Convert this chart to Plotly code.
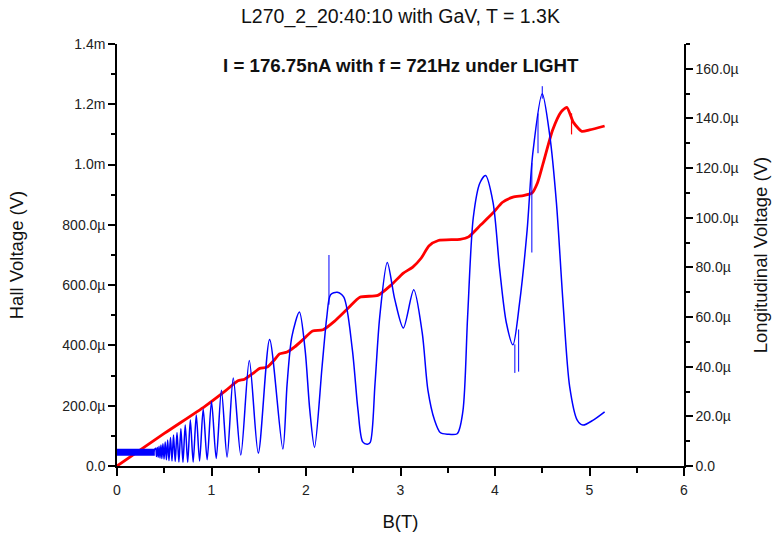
import plotly.graph_objects as go

# Magnetic field sweep (T)
# Hall voltage, values in microvolts
hall_b = [0.0, 0.5, 0.93, 1.15, 1.28, 1.35, 1.45, 1.51, 1.59, 1.66, 1.72, 1.80,
          1.88, 1.97, 2.07, 2.18, 2.30, 2.45, 2.57, 2.76, 2.90, 3.03, 3.13, 3.22,
          3.30, 3.40, 3.63, 3.72, 3.85, 3.98, 4.08, 4.19, 4.30, 4.39, 4.45, 4.51,
          4.61, 4.70, 4.76, 4.83, 4.92, 5.00, 5.16]
hall_uv = [0, 108, 198, 250, 283, 288, 310, 324, 328, 350, 372, 378,
           395, 420, 448, 452, 480, 525, 560, 566, 600, 640, 660, 690,
           730, 748, 752, 760, 800, 840, 875, 892, 897, 905, 940, 1005,
           1115, 1175, 1190, 1140, 1110, 1115, 1128]

# Longitudinal voltage, values in microvolts
long_b = [0.0, 0.38, 0.40, 0.41, 0.418, 0.427, 0.436, 0.445, 0.455, 0.465, 0.475,
          0.486, 0.498, 0.51, 0.523, 0.536, 0.55, 0.566, 0.582, 0.598, 0.616,
          0.635, 0.655, 0.676, 0.698, 0.722, 0.748, 0.776, 0.806, 0.839, 0.874,
          0.912, 0.954, 1.0, 1.05, 1.105, 1.165, 1.23, 1.31, 1.40, 1.495, 1.615,
          1.755, 1.80, 1.85, 1.93, 1.99, 2.04, 2.09, 2.17, 2.22, 2.26, 2.33, 2.40,
          2.49, 2.55, 2.60, 2.65, 2.68, 2.73, 2.78, 2.86, 2.94, 3.03, 3.14, 3.23,
          3.29, 3.36, 3.42, 3.50, 3.60, 3.66, 3.71, 3.77, 3.84, 3.90, 3.98, 4.05,
          4.12, 4.19, 4.26, 4.34, 4.40, 4.50, 4.58, 4.65, 4.72, 4.79, 4.87, 4.93,
          5.04, 5.16]
long_uv = [5.5, 5.5, 6.8, 7.2, 3.8, 7.5, 3.5, 8.0, 3.2, 8.5, 3.0,
           9.0, 2.8, 9.7, 2.5, 10.5, 2.2, 11.5, 2.0, 12.5, 1.8,
           13.5, 1.6, 15.0, 1.5, 16.5, 1.5, 18.5, 1.6, 20.5, 2.0,
           23.0, 2.5, 26.0, 3.0, 30.5, 3.6, 35.5, 4.4, 42.5, 5.2, 51.0,
           6.8, 33.0, 52.0, 62.0, 47.0, 22.6, 7.5, 40.0, 60.0, 69.0, 70.0, 68.0,
           47.0, 22.6, 9.7, 8.8, 9.5, 33.0, 60.0, 82.0, 67.0, 55.6, 71.0, 53.6,
           30.6, 18.5, 13.5, 12.8, 13.0, 22.0, 60.0, 100.0, 114.0, 117.0, 106.0, 79.0,
           57.7, 48.8, 65.7, 95.0, 126.0, 150.0, 133.0, 106.0, 65.7, 32.0, 18.5, 16.5,
           18.5, 21.8]

# Single-sample glitches in the longitudinal trace (field, from, to)
glitch_b = [2.243, 4.21, 4.25, 4.39, 4.455, 4.50]
glitch_from = [65.0, 49.0, 55.0, 122.0, 142.0, 148.0]
glitch_to = [85.0, 37.5, 38.0, 86.0, 126.0, 153.0]

# Glitch in the Hall trace
hall_glitch_b = [4.81]
hall_glitch_from = [1170]
hall_glitch_to = [1100]

# Noisy zero-field baseline of the longitudinal trace
base_b = [0.0, 0.40]
base_uv = [5.5, 5.5]

left_vals = [0, 200, 400, 600, 800, 1000, 1200, 1400]
left_text = ["0.0", "200.0µ", "400.0µ", "600.0µ", "800.0µ", "1.0m", "1.2m", "1.4m"]
right_vals = [0, 20, 40, 60, 80, 100, 120, 140, 160]
right_text = ["0.0", "20.0µ", "40.0µ", "60.0µ", "80.0µ", "100.0µ", "120.0µ", "140.0µ", "160.0µ"]
x_vals = [0, 1, 2, 3, 4, 5, 6]

BLUE = "#0000FF"
RED = "#FF0000"
FONT = "Liberation Sans, Arial, sans-serif"


def segments(xs, y0s, y1s):
    gx, gy = [], []
    for x, a, b in zip(xs, y0s, y1s):
        gx += [x, x, None]
        gy += [a, b, None]
    return gx, gy


fig = go.Figure()

fig.add_trace(go.Scatter(x=base_b, y=base_uv, yaxis="y2", mode="lines",
                         line=dict(color=BLUE, width=7), hoverinfo="skip"))
fig.add_trace(go.Scatter(x=long_b, y=long_uv, yaxis="y2", mode="lines",
                         line=dict(color=BLUE, width=1.5, shape="spline", smoothing=0.8),
                         name="Longitudinal"))
gx, gy = segments(glitch_b, glitch_from, glitch_to)
fig.add_trace(go.Scatter(x=gx, y=gy, yaxis="y2", mode="lines",
                         line=dict(color=BLUE, width=1), hoverinfo="skip"))

fig.add_trace(go.Scatter(x=hall_b, y=hall_uv, mode="lines",
                         line=dict(color=RED, width=2.8, shape="spline", smoothing=0.6),
                         name="Hall"))
hx, hy = segments(hall_glitch_b, hall_glitch_from, hall_glitch_to)
fig.add_trace(go.Scatter(x=hx, y=hy, mode="lines",
                         line=dict(color=RED, width=1.2), hoverinfo="skip"))

axis_common = dict(showline=True, linecolor="#000", linewidth=1.5, ticks="outside",
                   tickcolor="#000", tickwidth=1.5, showgrid=False, zeroline=False,
                   automargin=False,
                   tickfont=dict(family=FONT, size=14, color="#222"))

fig.update_layout(
    width=772, height=534,
    margin=dict(l=117, r=88, t=44, b=68),
    paper_bgcolor="white", plot_bgcolor="white",
    showlegend=False,
    title=dict(text="L270_2_20:40:10 with GaV, T = 1.3K", x=0.5, xref="paper",
               y=1 - 16 / 534, yanchor="middle", automargin=False,
               font=dict(family=FONT, size=19.5, color="#111")),
    xaxis=dict(range=[0, 6], tickvals=x_vals, ticklen=8, ticklabelstandoff=2,
               minor=dict(ticks="outside", dtick=0.5, ticklen=5, tickcolor="#000", tickwidth=1.5),
               title=dict(text="B(T)", font=dict(family=FONT, size=18.5, color="#111"), standoff=19),
               **axis_common),
    yaxis=dict(range=[0, 1400], tickvals=left_vals, ticktext=left_text, ticklen=7,
               minor=dict(ticks="outside", dtick=100, ticklen=4, tickcolor="#000", tickwidth=1.5),
               title=dict(text="Hall Voltage (V)", font=dict(family=FONT, size=18.5, color="#111"), standoff=34),
               **axis_common),
    yaxis2=dict(range=[0, 170], overlaying="y", side="right", anchor="x",
                tickvals=right_vals, ticktext=right_text, ticklen=7,
                minor=dict(ticks="outside", dtick=10, ticklen=4, tickcolor="#000", tickwidth=1.5),
                title=dict(text="Longitudinal Voltage (V)", font=dict(family=FONT, size=18.5, color="#111"), standoff=16),
                **axis_common),
    annotations=[dict(text="<b>I = 176.75nA with f = 721Hz under LIGHT</b>",
                      xref="paper", yref="paper", x=0.5, y=(466 - 65) / 422,
                      xanchor="center", yanchor="middle", showarrow=False,
                      font=dict(family=FONT, size=18.7, color="#111"))],
)

fig.write_html("out.html")
